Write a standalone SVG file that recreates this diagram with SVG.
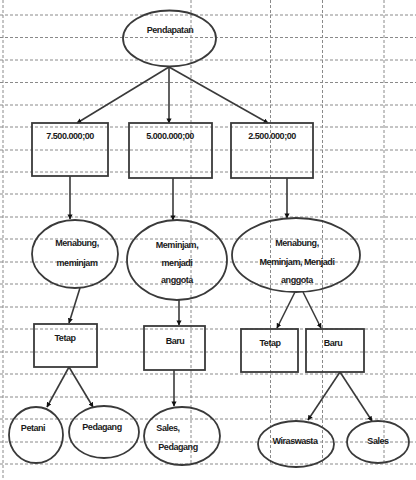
<svg xmlns="http://www.w3.org/2000/svg" width="416" height="480" viewBox="0 0 416 480">
<defs>
<style>
.grid{stroke:#8a8a8a;stroke-width:1;stroke-dasharray:3,2;fill:none}
.shape{fill:none;stroke:#3a3a3a;stroke-width:1.8}
.conn{stroke:#3a3a3a;stroke-width:1.6;fill:none;marker-end:url(#ah)}
text{font-family:"Liberation Sans",Arial,sans-serif;font-size:9px;fill:#1a1a1a;text-anchor:middle;font-weight:bold;letter-spacing:-0.45px}
</style>
<marker id="ah" viewBox="0 0 10 10" refX="9" refY="5" markerWidth="3.2" markerHeight="3.2" orient="auto" markerUnits="strokeWidth">
<path d="M0,0 L10,5 L0,10 z" fill="#111"/>
</marker>
</defs>
<rect width="416" height="480" fill="#fff"/>
<g id="grid" class="grid">
<path d="M0,15H416M0,37.5H416M0,60H416M0,82.5H416M0,105H416M0,127H416M0,150H416M0,172H416M0,194H416M0,217H416M0,239H416M0,262H416M0,284H416M0,307H416M0,329H416M0,352H416M0,374H416M0,397H416M0,419H416M0,442H416M0,464H416"/>
<path d="M3,0V480M191,0V464M270.5,0V464M322.5,0V464M384,0V464"/>
</g>
<g id="connectors">
<line class="conn" x1="169" y1="67" x2="77" y2="123"/>
<line class="conn" x1="169" y1="67" x2="169" y2="123"/>
<line class="conn" x1="169" y1="67" x2="268" y2="123"/>
<line class="conn" x1="70" y1="176" x2="70" y2="219"/>
<line class="conn" x1="173" y1="178" x2="173" y2="220"/>
<line class="conn" x1="287" y1="178" x2="287" y2="218"/>
<line class="conn" x1="80" y1="288" x2="69" y2="323"/>
<line class="conn" x1="179" y1="300" x2="179" y2="325"/>
<line class="conn" x1="295" y1="292" x2="277" y2="328"/>
<line class="conn" x1="303" y1="292" x2="321" y2="328"/>
<line class="conn" x1="69" y1="367" x2="47" y2="407"/>
<line class="conn" x1="69" y1="367" x2="93" y2="407"/>
<line class="conn" x1="174" y1="370" x2="174" y2="406"/>
<line class="conn" x1="340" y1="372" x2="308" y2="420"/>
<line class="conn" x1="340" y1="372" x2="372" y2="421"/>
</g>
<g id="pendapatan"><ellipse class="shape" cx="169.5" cy="38.5" rx="46.5" ry="28"/><text x="170" y="33">Pendapatan</text></g>
<g id="b7500"><rect class="shape" x="32" y="123" width="76" height="53"/><text x="70" y="139">7.500.000;00</text></g>
<g id="b5000"><rect class="shape" x="129" y="123" width="83" height="55"/><text x="170" y="139">5.000.000;00</text></g>
<g id="b2500"><rect class="shape" x="231" y="123" width="82" height="55"/><text x="272" y="139">2.500.000;00</text></g>
<g id="e1"><ellipse class="shape" cx="75" cy="254" rx="43" ry="34"/><text x="77" y="246">Menabung,</text><text x="77" y="266">meminjam</text></g>
<g id="e2"><ellipse class="shape" cx="177" cy="260" rx="50" ry="40"/><text x="177" y="248">Meminjam,</text><text x="177" y="266">menjadi</text><text x="177" y="283">anggota</text></g>
<g id="e3"><ellipse class="shape" cx="296" cy="255" rx="64" ry="37"/><text x="297" y="246">Menabung,</text><text x="297" y="265">Meminjam, Menjadi</text><text x="297" y="283">anggota</text></g>
<g id="tetap1"><rect class="shape" x="34" y="324" width="63" height="43"/><text x="65" y="341">Tetap</text></g>
<g id="baru1"><rect class="shape" x="144" y="326" width="61" height="44"/><text x="175" y="344">Baru</text></g>
<g id="tetap2"><rect class="shape" x="241" y="329" width="57" height="43"/><text x="270" y="346">Tetap</text></g>
<g id="baru2"><rect class="shape" x="306" y="329" width="58" height="43"/><text x="333" y="346">Baru</text></g>
<g id="petani"><ellipse class="shape" cx="36" cy="435" rx="27" ry="28"/><text x="33" y="431">Petani</text></g>
<g id="pedagang"><ellipse class="shape" cx="104" cy="432" rx="35" ry="26"/><text x="102" y="430">Pedagang</text></g>
<g id="salespedagang"><ellipse class="shape" cx="182" cy="436" rx="38" ry="29"/><text x="168" y="431">Sales,</text><text x="178" y="450">Pedagang</text></g>
<g id="wiraswasta"><ellipse class="shape" cx="296" cy="444" rx="38" ry="23"/><text x="295" y="444">Wiraswasta</text></g>
<g id="sales"><ellipse class="shape" cx="378" cy="442" rx="31" ry="21"/><text x="378" y="444">Sales</text></g>
</svg>
